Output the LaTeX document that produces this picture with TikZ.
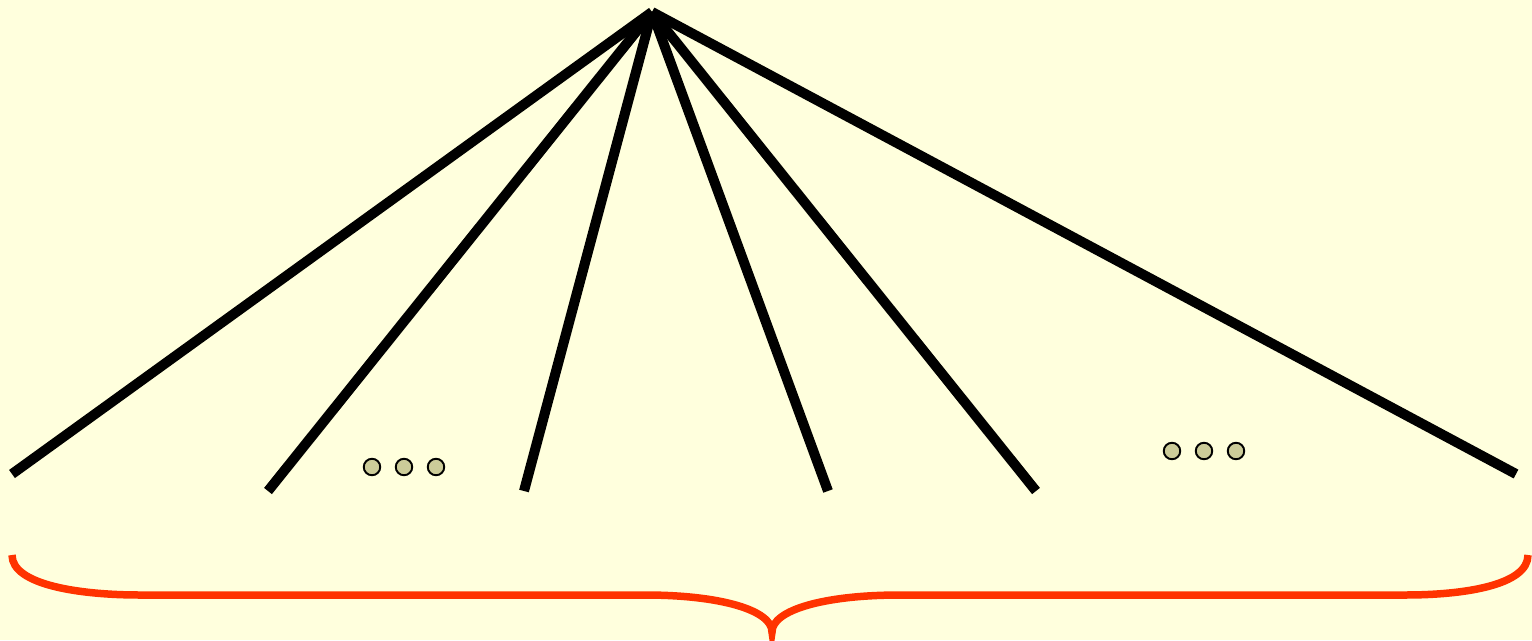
\documentclass[tikz,border=0pt]{standalone}
\usepackage{xcolor}
\usepackage{tikz}
\definecolor{PaleBg}{HTML}{FFFFDD}
\definecolor{DotFill}{HTML}{CCCC99}
\definecolor{BraceRed}{HTML}{FF3300}

\begin{document}
\begin{tikzpicture}[
  x=0.02cm, y=-0.02cm,
  leg/.style={line width=0.2cm, draw=black},
  dot/.style={circle, draw=black, fill=DotFill, line width=1.1pt,
              minimum size=0.33cm, inner sep=0pt},
  brace/.style={line width=0.15cm, draw=BraceRed},
]
\fill[PaleBg] (0,0) rectangle (1532,640);
\useasboundingbox (0,0) rectangle (1532,640);
\coordinate (top) at (652,12);
\coordinate (e1) at (12,474);
\coordinate (e2) at (268,491);
\coordinate (e3) at (524,491);
\coordinate (e4) at (828,491);
\coordinate (e5) at (1036,491);
\coordinate (e6) at (1516,474);
\foreach \e in {e1,e2,e3,e4,e5,e6}
  \draw[leg] (top) -- (\e);
\node[dot] (la) at (372,467) {};
\node[dot] (lb) at (404,467) {};
\node[dot] (lc) at (436,467) {};
\node[dot] (ra) at (1172,451) {};
\node[dot] (rb) at (1204,451) {};
\node[dot] (rc) at (1236,451) {};
\coordinate (bl) at (12,555);
\coordinate (tip) at (772,632);
\coordinate (br) at (1528,555);
\draw[brace] (bl) .. controls (12,585) and (80,595) .. (140,595) -- (645,595)
  .. controls (720,595) and (772,610) .. (tip)
  .. controls (772,610) and (824,595) .. (900,595) -- (1405,595)
  .. controls (1465,595) and (1528,585) .. (br);
\fill[BraceRed] (tip) circle[radius=3.5];
\end{tikzpicture}
\end{document}
